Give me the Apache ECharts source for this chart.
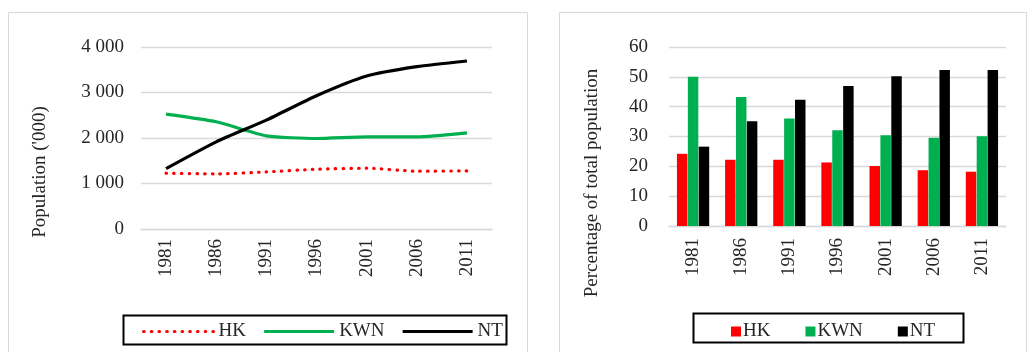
<!DOCTYPE html>
<html>
<head>
<meta charset="utf-8">
<script src="https://cdn.jsdelivr.net/npm/echarts@6/dist/echarts.min.js"></script>
<style>
html,body{margin:0;padding:0;background:#fff;}
#wrap{position:relative;width:1027px;height:352px;overflow:hidden;}
.c{position:absolute;left:0;top:0;width:1027px;height:352px;}
</style>
</head>
<body>
<div id="wrap"><div id="left" class="c"></div><div id="right" class="c"></div></div>
<script>
// ---- data ----
const years = ['1981','1986','1991','1996','2001','2006','2011'];
const seriesNames = ['HK','KWN','NT'];
// Population ('000)
const popHK  = [1226, 1211, 1255, 1314, 1336, 1270, 1277];
const popKWN = [2525, 2356, 2048, 1989, 2026, 2026, 2114];
const popNT  = [1328, 1916, 2393, 2928, 3361, 3567, 3692];
// Percentage of total population
const pctHK  = [24.2, 22.2, 22.2, 21.3, 20.1, 18.7, 18.2];
const pctKWN = [50.0, 43.2, 36.0, 32.1, 30.4, 29.6, 30.1];
const pctNT  = [26.6, 35.1, 42.3, 46.9, 50.2, 52.3, 52.3];
const popTicks = [0, 1000, 2000, 3000, 4000];
const pctTicks = [0, 10, 20, 30, 40, 50, 60];

const FONT = '"Liberation Serif","Times New Roman",serif';
const FS = 19;
const TXT = '#262626';
const GRIDC = '#d9d9d9';
const colors = {HK:'#ff0000', KWN:'#00b050', NT:'#000000'};
const fmt = v => String(v).replace(/\B(?=(\d{3})+(?!\d))/g, ' ');

const left = echarts.init(document.getElementById('left'), null, {renderer:'canvas'});
left.setOption({
  animation:false,
  textStyle:{fontFamily:FONT},
  grid:{left:141, top:47, width:351, height:182, containLabel:false},
  xAxis:{type:'category', data:years, boundaryGap:true,
    axisLine:{show:true, lineStyle:{color:GRIDC, width:1.3}}, axisTick:{show:false},
    axisLabel:{rotate:90, margin:10, color:TXT, fontSize:FS, fontFamily:FONT}},
  yAxis:{type:'value', min:popTicks[0], max:popTicks[popTicks.length-1], interval:popTicks[1]-popTicks[0],
    axisLine:{show:false}, axisTick:{show:false},
    splitLine:{lineStyle:{color:GRIDC, width:1.3}},
    axisLabel:{margin:17, color:TXT, fontSize:FS, fontFamily:FONT, formatter:fmt}},
  legend:{left:142, top:322, itemWidth:70, itemHeight:14, itemGap:16.5, padding:0,
    itemStyle:{opacity:0},
    lineStyle:{width:3.2},
    textStyle:{color:TXT, fontSize:FS, fontFamily:FONT},
    data:seriesNames},
  graphic:[
    {type:'rect', shape:{x:8.5, y:12.5, width:519, height:400}, style:{fill:'none', stroke:GRIDC, lineWidth:1}, silent:true},
    {type:'rect', shape:{x:123.5, y:315.5, width:383, height:29}, style:{fill:'none', stroke:'#000', lineWidth:2}, silent:true},
    {type:'text', x:40, y:172, rotation:Math.PI/2, silent:true,
      style:{text:"Population ('000)", font:FS+'px '+FONT, fill:TXT, textAlign:'center', textVerticalAlign:'middle'}}
  ],
  series:[
    {name:'HK', type:'line', data:popHK, smooth:0.2, symbol:'none', color:colors.HK,
      lineStyle:{color:colors.HK, width:3.2, type:[0.5,7.2], cap:'round'}},
    {name:'KWN', type:'line', data:popKWN, smooth:0.2, symbol:'none', color:colors.KWN,
      lineStyle:{color:colors.KWN, width:3.2}},
    {name:'NT', type:'line', data:popNT, smooth:0.2, symbol:'none', color:colors.NT,
      lineStyle:{color:colors.NT, width:3.2}}
  ]
});

const right = echarts.init(document.getElementById('right'), null, {renderer:'canvas'});
right.setOption({
  animation:false,
  textStyle:{fontFamily:FONT},
  grid:{left:669, top:47, width:337, height:179, containLabel:false},
  xAxis:{type:'category', data:years, boundaryGap:true,
    axisLine:{show:true, lineStyle:{color:GRIDC, width:1.3}}, axisTick:{show:false},
    axisLabel:{rotate:90, margin:12, color:TXT, fontSize:FS, fontFamily:FONT}},
  yAxis:{type:'value', min:pctTicks[0], max:pctTicks[pctTicks.length-1], interval:pctTicks[1]-pctTicks[0],
    axisLine:{show:false}, axisTick:{show:false},
    splitLine:{lineStyle:{color:GRIDC, width:1.3}},
    axisLabel:{margin:21, color:TXT, fontSize:FS, fontFamily:FONT}},
  legend:{left:731, top:322, itemWidth:10, itemHeight:10, itemGap:35, padding:0, icon:'rect',
    textStyle:{color:TXT, fontSize:FS, fontFamily:FONT, padding:[0,0,0,-3]},
    data:seriesNames},
  graphic:[
    {type:'rect', shape:{x:559.5, y:12.5, width:467, height:400}, style:{fill:'none', stroke:GRIDC, lineWidth:1}, silent:true},
    {type:'rect', shape:{x:693.5, y:313.5, width:270, height:29}, style:{fill:'none', stroke:'#000', lineWidth:2}, silent:true},
    {type:'text', x:592, y:183, rotation:Math.PI/2, silent:true,
      style:{text:'Percentage of total population', font:FS+'px '+FONT, fill:TXT, textAlign:'center', textVerticalAlign:'middle'}}
  ],
  series:[
    {name:'HK', type:'bar', data:pctHK, color:colors.HK, barCategoryGap:'33%', barGap:'4%'},
    {name:'KWN', type:'bar', data:pctKWN, color:colors.KWN, barCategoryGap:'33%', barGap:'4%'},
    {name:'NT', type:'bar', data:pctNT, color:colors.NT, barCategoryGap:'33%', barGap:'4%'}
  ]
});
</script>
</body>
</html>
